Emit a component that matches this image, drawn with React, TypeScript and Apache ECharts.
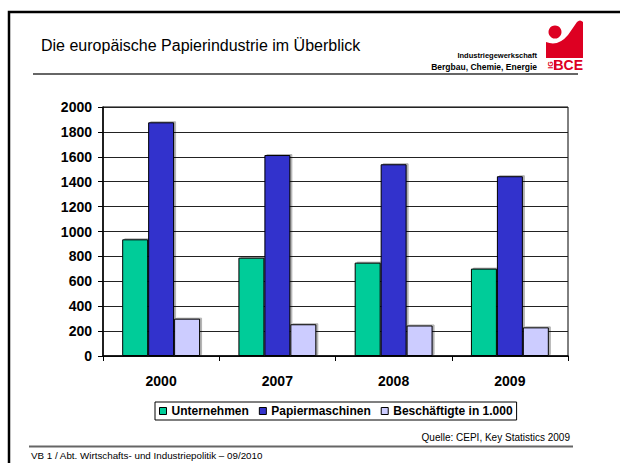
import React, { useEffect, useRef } from "react";
import * as echarts from "echarts";

const categories = ["2000", "2007", "2008", "2009"];
const seriesNames = ["Unternehmen", "Papiermaschinen", "Beschäftigte in 1.000"];
const unternehmen = [937, 790, 750, 702];
const papiermaschinen = [1877, 1614, 1540, 1444];
const beschaeftigte = [300, 255, 245, 230];
const yMin = 0;
const yMax = 2000;
const yInterval = 200;

const titleText = "Die europäische Papierindustrie im Überblick";
const orgLine1 = "Industriegewerkschaft";
const orgLine2 = "Bergbau, Chemie, Energie";
const sourceText = "Quelle: CEPI, Key Statistics 2009";
const footerText = "VB 1 / Abt. Wirtschafts- und Industriepolitik – 09/2010";

const colors = ["#00CC99", "#3333CC", "#CCCCFF"];
const FONT = "'Liberation Sans', Arial, sans-serif";

echarts.graphic.registerShape(
  "igbceFigure",
  echarts.graphic.extendPath(
    "M0,38 L0,22 Q12,27 22,15 L31,2 Q34,-1 37,2 L37,38 Z",
    {}
  )
);

export default function App() {
  const ref = useRef<HTMLDivElement>(null);

  useEffect(() => {
    if (!ref.current) return;
    const chart = echarts.init(ref.current, null, { renderer: "svg" });
    const barStyle = (c: string) => ({
      color: c,
      borderColor: "#000",
      borderWidth: 1,
      shadowColor: "rgba(0,0,0,0.3)",
      shadowOffsetX: 2,
      shadowOffsetY: -1,
      shadowBlur: 0,
    });
    const data = [unternehmen, papiermaschinen, beschaeftigte];
    chart.setOption({
      animation: false,
      backgroundColor: "#fff",
      textStyle: { fontFamily: FONT },
      grid: {
        left: 103,
        right: 52,
        top: 107,
        bottom: 107,
        show: true,
        borderColor: "#000",
        borderWidth: 1,
        backgroundColor: "transparent",
      },
      legend: {
        left: 155,
        top: 402,
        orient: "horizontal",
        data: seriesNames,
        icon: "rect",
        itemWidth: 7,
        itemHeight: 7,
        itemGap: 10,
        padding: [3, 4, 3, 4],
        borderColor: "#000",
        borderWidth: 1,
        itemStyle: { borderColor: "#000", borderWidth: 1 },
        textStyle: {
          fontFamily: FONT,
          fontWeight: "bold",
          fontSize: 12,
          color: "#000",
        },
      },
      xAxis: {
        type: "category",
        data: categories,
        axisLine: { show: true, lineStyle: { color: "#000", width: 1.5 } },
        axisTick: {
          show: true,
          alignWithLabel: false,
          length: 5,
          lineStyle: { color: "#000" },
        },
        axisLabel: {
          margin: 18,
          fontFamily: FONT,
          fontWeight: "bold",
          fontSize: 14,
          color: "#000",
        },
        splitLine: { show: false },
      },
      yAxis: {
        type: "value",
        min: yMin,
        max: yMax,
        interval: yInterval,
        axisLine: { show: true, lineStyle: { color: "#000", width: 1.5 } },
        axisTick: { show: true, length: 5, lineStyle: { color: "#000" } },
        axisLabel: {
          margin: 11,
          fontFamily: FONT,
          fontWeight: "bold",
          fontSize: 14,
          color: "#000",
          formatter: (v: number) => String(v),
        },
        splitLine: { show: true, lineStyle: { color: "#222", width: 1 } },
      },
      series: seriesNames.map((name, i) => ({
        name,
        type: "bar",
        data: data[i],
        barGap: "0%",
        barCategoryGap: "33%",
        itemStyle: barStyle(colors[i]),
        emphasis: { disabled: true },
      })),
      graphic: [
        {
          type: "rect",
          silent: true,
          shape: { x: 9, y: 12, width: 700, height: 600 },
          style: { fill: "none", stroke: "#000", lineWidth: 2.5 },
        },
        {
          type: "text",
          left: 41,
          top: 37,
          style: {
            text: titleText,
            font: `16px ${FONT}`,
            fill: "#000",
          },
        },
        {
          type: "text",
          x: 537,
          y: 55,
          style: {
            text: orgLine1,
            font: `bold 7.5px ${FONT}`,
            fill: "#000",
            align: "right",
            verticalAlign: "middle",
          },
        },
        {
          type: "text",
          x: 537,
          y: 67,
          style: {
            text: orgLine2,
            font: `bold 8.5px ${FONT}`,
            fill: "#000",
            align: "right",
            verticalAlign: "middle",
          },
        },
        {
          type: "line",
          shape: { x1: 33, y1: 74, x2: 578, y2: 74 },
          style: { stroke: "#666", lineWidth: 2 },
        },
        {
          type: "group",
          x: 546,
          y: 20,
          children: [
            {
              type: "igbceFigure",
              x: 0,
              y: 0,
              style: { fill: "#DD0022" },
            },
            {
              type: "circle",
              shape: { cx: 9, cy: 13, r: 7 },
              style: { fill: "#fff" },
            },
            {
              type: "circle",
              shape: { cx: 9, cy: 12, r: 6.5 },
              style: { fill: "#DD0022" },
            },
            {
              type: "text",
              x: 37,
              y: 45,
              style: {
                text: "BCE",
                font: `bold 14px ${FONT}`,
                fill: "#DD0022",
                align: "right",
                verticalAlign: "middle",
              },
            },
            {
              type: "text",
              x: 4,
              y: 45,
              rotation: Math.PI / 2,
              style: {
                text: "IG",
                font: `bold 7px ${FONT}`,
                fill: "#DD0022",
                align: "center",
                verticalAlign: "middle",
              },
            },
            {
              type: "line",
              shape: { x1: 8.5, y1: 40, x2: 8.5, y2: 50 },
              style: { stroke: "#DD0022", lineWidth: 1.2 },
            },
          ],
        },
        {
          type: "text",
          x: 570,
          y: 437,
          style: {
            text: sourceText,
            font: `10px ${FONT}`,
            fill: "#000",
            align: "right",
            verticalAlign: "middle",
          },
        },
        {
          type: "line",
          shape: { x1: 29, y1: 446.5, x2: 573, y2: 446.5 },
          style: { stroke: "#666", lineWidth: 2 },
        },
        {
          type: "text",
          x: 31,
          y: 455,
          style: {
            text: footerText,
            font: `9.8px ${FONT}`,
            fill: "#000",
            align: "left",
            verticalAlign: "middle",
          },
        },
      ],
    });
    return () => chart.dispose();
  }, []);

  return (
    <div
      ref={ref}
      style={{
        position: "fixed",
        left: 0,
        top: 0,
        width: 620,
        height: 463,
        background: "#fff",
      }}
    />
  );
}
